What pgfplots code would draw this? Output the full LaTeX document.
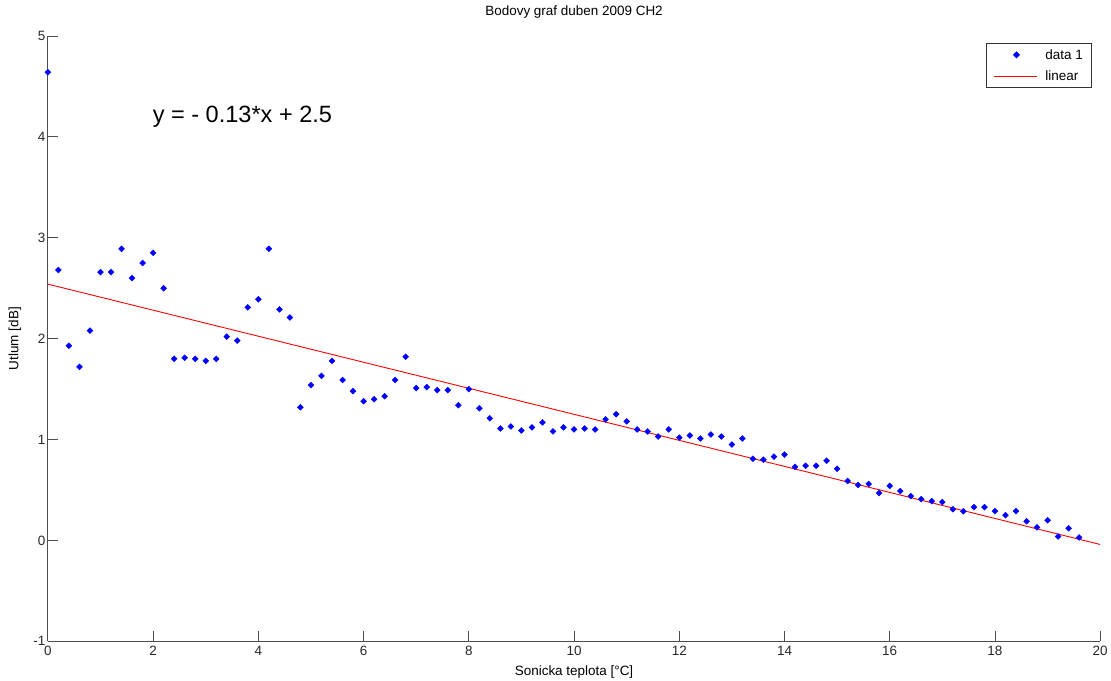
\documentclass[border=0pt]{standalone}
\usepackage{fontspec}
\setmainfont{Liberation Sans}
\usepackage{pgfplots}
\usepackage{pgfplotstable}
\pgfplotsset{compat=1.18}
\pgfplotsset{
  markleg/.style={legend image code/.code={\path[draw=none,fill=none] (0pt,0pt) -- (50pt,0pt); \draw[##1] plot coordinates {(23pt,0pt)};}},
  lineleg/.style={legend image code/.code={\path[draw=none,fill=none] (0pt,0pt) -- (50pt,0pt); \draw[red, line width=0.9pt] (0pt,0pt) -- (44pt,0pt);}},
}
\pgfplotstableread{
x y
0.0 4.64
0.2 2.68
0.4 1.93
0.6 1.72
0.8 2.08
1.0 2.66
1.2 2.66
1.4 2.89
1.6 2.60
1.8 2.75
2.0 2.85
2.2 2.50
2.4 1.80
2.6 1.81
2.8 1.80
3.0 1.78
3.2 1.80
3.4 2.02
3.6 1.98
3.8 2.31
4.0 2.39
4.2 2.89
4.4 2.29
4.6 2.21
4.8 1.32
5.0 1.54
5.2 1.63
5.4 1.78
5.6 1.59
5.8 1.48
6.0 1.38
6.2 1.40
6.4 1.43
6.6 1.59
6.8 1.82
7.0 1.51
7.2 1.52
7.4 1.49
7.6 1.49
7.8 1.34
8.0 1.50
8.2 1.31
8.4 1.21
8.6 1.11
8.8 1.13
9.0 1.09
9.2 1.12
9.4 1.17
9.6 1.08
9.8 1.12
10.0 1.10
10.2 1.11
10.4 1.10
10.6 1.20
10.8 1.25
11.0 1.18
11.2 1.10
11.4 1.08
11.6 1.03
11.8 1.10
12.0 1.02
12.2 1.04
12.4 1.01
12.6 1.05
12.8 1.03
13.0 0.95
13.2 1.01
13.4 0.81
13.6 0.80
13.8 0.83
14.0 0.85
14.2 0.73
14.4 0.74
14.6 0.74
14.8 0.79
15.0 0.71
15.2 0.59
15.4 0.55
15.6 0.56
15.8 0.47
16.0 0.54
16.2 0.49
16.4 0.44
16.6 0.41
16.8 0.39
17.0 0.38
17.2 0.31
17.4 0.29
17.6 0.33
17.8 0.33
18.0 0.29
18.2 0.25
18.4 0.29
18.6 0.19
18.8 0.13
19.0 0.20
19.2 0.04
19.4 0.12
19.6 0.03
}\datatable
\begin{document}
\begin{tikzpicture}
\begin{axis}[name=ax, scale only axis, width=1055pt, height=607pt,
  xmin=0, xmax=20, ymin=-1, ymax=5,
  xtick={0,2,...,20}, ytick={-1,0,...,5},
  axis x line*=bottom, axis y line*=left,
  axis line style={black!70, line width=0.8pt, -},
  tick align=inside, major tick length=10pt,
  tick style={black!70, line width=0.8pt},
  /pgf/number format/assume math mode=true,
  tick label style={font=\fontsize{13.5}{15}\selectfont, text=black!85},
  xticklabel style={yshift=-1pt},
  yticklabel style={xshift=1pt},
  title={Bodovy graf duben 2009 CH2},
  title style={at={(rel axis cs:0.5,1)}, anchor=center, yshift=18pt, font=\fontsize{13.5}{15}\selectfont, inner sep=0pt},
  xlabel={Sonicka teplota [°C]},
  xlabel style={at={(rel axis cs:0.5,0)}, anchor=center, yshift=-31pt, font=\fontsize{13.5}{15}\selectfont, inner sep=0pt},
  ylabel={Utlum [dB]},
  ylabel style={at={(rel axis cs:0,0.5)}, anchor=center, yshift=33pt, font=\fontsize{13.5}{15}\selectfont, inner sep=0pt},
  legend style={at={(rel axis cs:1,1)}, anchor=north east, xshift=-8pt, yshift=-7pt,
    draw=black!80, line width=0.8pt, font=\fontsize{13.5}{15}\selectfont,
    row sep=6pt, inner xsep=7pt, inner ysep=4pt, cells={anchor=west}},
  clip=false,
]
\addplot[only marks, mark=square*, mark size=2.1pt, mark options={rotate=45}, color=blue, markleg]
  table[x=x, y=y] {\datatable};
\addlegendentry{data 1}
\addplot[red, line width=0.9pt, no marks, lineleg]
  coordinates {(0,2.54) (20,-0.04)};
\addlegendentry{linear}
\node[anchor=base west, inner sep=0pt, font=\fontsize{23.6}{26}\selectfont] at (axis cs:1.99,4.14) {y = - 0.13*x + 2.5};
\end{axis}
\path ([xshift=-48pt,yshift=-39pt]ax.south west) rectangle ([xshift=8pt,yshift=36pt]ax.north east);
\end{tikzpicture}
\end{document}
